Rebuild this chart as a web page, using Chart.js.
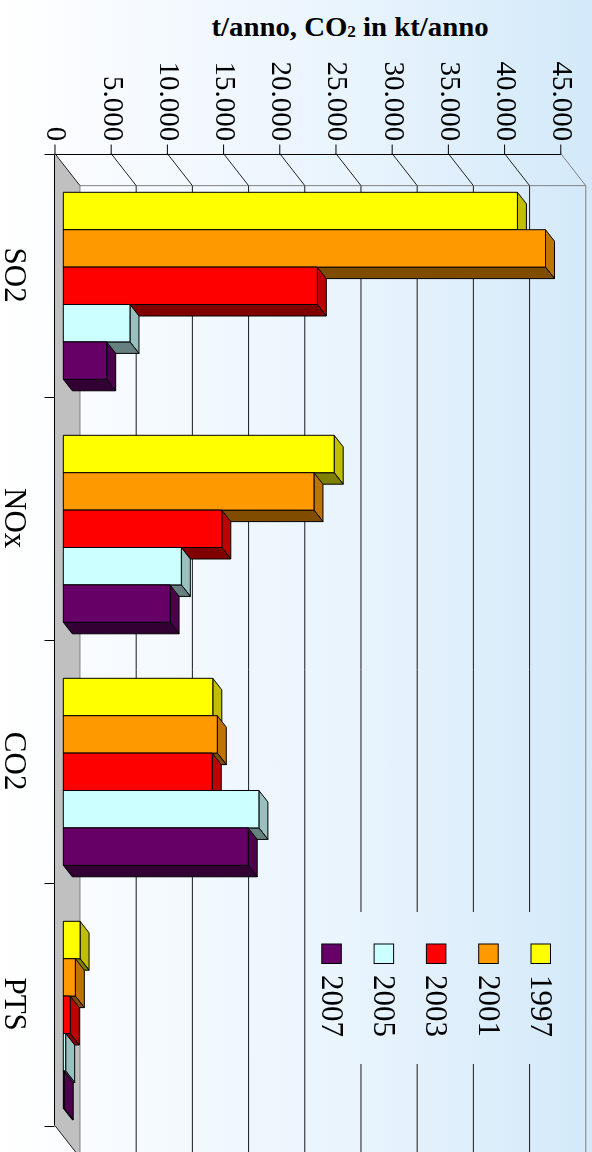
<!DOCTYPE html>
<html>
<head>
<meta charset="utf-8">
<script src="https://cdn.jsdelivr.net/npm/chart.js@4.4.1/dist/chart.umd.min.js"></script>
<style>
  html, body { margin: 0; padding: 0; }
  body {
    width: 592px; height: 1152px; overflow: hidden; position: relative;
    background: linear-gradient(to right, #ffffff 0%, #f5faff 25%, #e9f4fd 60%, #d3e9f9 100%);
  }
  #title {
    position: absolute; left: 350px; top: 14px; white-space: nowrap;
    font: bold 27px "Liberation Serif", serif; line-height: 27px; color: #000;
    transform: translateX(-50%) scaleX(1.065);
  }
  #title span { font-size: 0.6em; vertical-align: -1px; }
  #wrap {
    position: absolute; left: 0; top: 0; width: 1152px; height: 592px;
    transform-origin: 0 0; transform: translate(592px, 0) rotate(90deg);
  }
</style>
</head>
<body>
<div id="title">t/anno, CO<span>2</span> in kt/anno</div>
<div id="wrap"><canvas id="emis" width="1152" height="592"></canvas></div>
<script>
  // dati emissioni (t/anno, CO2 in kt/anno)
  const categories = ['SO2', 'NOx', 'CO2', 'PTS'];
  const years = ['1997', '2001', '2003', '2005', '2007'];
  const v1997 = [40400, 24100, 13300, 1490];
  const v2001 = [42900, 22300, 13700, 1070];
  const v2003 = [22600, 14100, 13250, 620];
  const v2005 = [5930, 10500, 17400, 210];
  const v2007 = [3860, 9500, 16450, 80];
  const yMax = 45000;
  const yStep = 5000;

  const series = [v1997, v2001, v2003, v2005, v2007];
  const front = ['#FFFF00', '#FF9900', '#FF0000', '#CCFFFF', '#660066'];
  const topFace = ['#BFBF00', '#BF7300', '#BF0000', '#99BFBF', '#4C004C'];
  const sideFace = ['#808000', '#804C00', '#800000', '#668080', '#330033'];

  const SERIF = '"Liberation Serif", "Times New Roman", serif';
  const fmt = v => String(v).replace(/\B(?=(\d{3})+(?!\d))/g, '.');

  // profondita' pareti e barre (pseudo 3D)
  const WU = 32, WV = 25;
  const BU = 11.5, BV = 9;

  function poly(ctx, pts, fill, stroke) {
    ctx.beginPath();
    ctx.moveTo(pts[0][0], pts[0][1]);
    for (let i = 1; i < pts.length; i++) ctx.lineTo(pts[i][0], pts[i][1]);
    ctx.closePath();
    if (fill) { ctx.fillStyle = fill; ctx.fill(); }
    if (stroke) { ctx.strokeStyle = stroke; ctx.lineWidth = 1; ctx.stroke(); }
  }
  function line(ctx, x1, y1, x2, y2, color) {
    ctx.beginPath();
    ctx.moveTo(x1, y1);
    ctx.lineTo(x2, y2);
    ctx.strokeStyle = color;
    ctx.lineWidth = 1;
    ctx.stroke();
  }

  const frame3d = {
    id: 'frame3d',
    beforeDatasetsDraw(chart) {
      const { ctx, chartArea: a, scales: { x, y } } = chart;
      const band = (a.right - a.left) / categories.length;
      const fv = val => y.getPixelForValue(val) + WV / 3;
      const bv = val => fv(val) - WV;
      const u0 = a.left - WU / 3;
      const u4 = u0 + band * categories.length;
      const v0 = Math.round(fv(0)) + 0.5;
      const ux0 = Math.round(u0) + 0.5;

      ctx.save();
      // pavimento
      poly(ctx, [[u0, fv(0)], [u0 + WU, bv(0)], [u4 + WU, bv(0)], [u4, fv(0)]], '#C0C0C0', null);
      // griglia parete di fondo
      for (let val = yStep; val < yMax; val += yStep) {
        line(ctx, u0 + WU, bv(val), u4 + WU, bv(val), '#1a1a1a');
      }
      line(ctx, u0 + WU, bv(yMax), u4 + WU, bv(yMax), '#808080');
      line(ctx, u0 + WU, bv(0), u4 + WU, bv(0), '#808080');
      line(ctx, u0 + WU, bv(0), u0 + WU, bv(yMax), '#808080');
      // parete laterale
      for (let val = 0; val <= yMax; val += yStep) {
        line(ctx, u0, fv(val), u0 + WU, bv(val), val === yMax ? '#808080' : '#202020');
      }
      line(ctx, u4, fv(0), u4 + WU, bv(0), '#202020');
      // assi frontali
      line(ctx, ux0, v0, u4, v0, '#000');
      line(ctx, ux0, v0, ux0, fv(yMax), '#000');
      for (let val = 0; val <= yMax; val += yStep) {
        line(ctx, ux0 - 10, fv(val), ux0, fv(val), '#000');
      }
      for (let k = 0; k <= categories.length; k++) {
        const uk = Math.round(u0 + k * band) + 0.5;
        line(ctx, uk, v0, uk, v0 + 10, '#000');
      }
      // barre
      chart.data.datasets.forEach((ds, i) => {
        chart.getDatasetMeta(i).data.forEach(el => {
          const l = el.x - el.width / 2, r = el.x + el.width / 2;
          const t = el.y, b = el.base;
          poly(ctx, [[l, t], [r, t], [r + BU, t - BV], [l + BU, t - BV]], topFace[i], '#000');
          poly(ctx, [[r, t], [r + BU, t - BV], [r + BU, b - BV], [r, b]], sideFace[i], '#000');
          poly(ctx, [[l, t], [r, t], [r, b], [l, b]], front[i], '#000');
        });
      });
      ctx.restore();
      return false;
    },
    afterDraw(chart) {
      const ctx = chart.ctx;
      ctx.save();
      ctx.clearRect(912, 12, 152, 270);
      ctx.font = '31px ' + SERIF;
      ctx.textBaseline = 'middle';
      ctx.textAlign = 'left';
      chart.data.datasets.forEach((ds, i) => {
        const vc = 51 + i * 52.3;
        ctx.fillStyle = ds.backgroundColor;
        ctx.fillRect(944, vc - 9.5, 19.5, 19.5);
        ctx.strokeStyle = '#000';
        ctx.lineWidth = 1;
        ctx.strokeRect(944, vc - 9.5, 19.5, 19.5);
        ctx.fillStyle = '#000';
        ctx.fillText(ds.label, 975, vc + 2);
      });
      ctx.restore();
    }
  };

  function noPad(s) {
    s.paddingTop = 0; s.paddingBottom = 0;
    s.paddingLeft = 0; s.paddingRight = 0;
  }

  const emis = new Chart(document.getElementById('emis').getContext('2d'), {
    type: 'bar',
    data: {
      labels: categories,
      datasets: years.map((yr, i) => ({
        label: yr,
        data: series[i],
        backgroundColor: front[i],
        categoryPercentage: 0.7695,
        barPercentage: 1.0
      }))
    },
    options: {
      responsive: false,
      animation: false,
      devicePixelRatio: 1,
      layout: { padding: { top: 22.9, right: 15.7, bottom: 0, left: 0 } },
      plugins: {
        legend: { display: false },
        tooltip: { enabled: false }
      },
      scales: {
        x: {
          grid: { display: false, drawTicks: false },
          border: { display: false },
          ticks: {
            color: '#000',
            font: { family: SERIF, size: 31 },
            padding: 32,
            labelOffset: -WU / 3,
            maxRotation: 0
          },
          afterFit: s => { s.height = 63.3; noPad(s); }
        },
        y: {
          min: 0,
          max: yMax,
          grid: { display: false, drawTicks: false },
          border: { display: false },
          ticks: {
            stepSize: yStep,
            color: '#000',
            font: { family: SERIF, size: 29 },
            padding: 23,
            labelOffset: WV / 3,
            callback: v => fmt(v)
          },
          afterFit: s => { s.width = 164.3; noPad(s); }
        }
      }
    },
    plugins: [frame3d]
  });
</script>
</body>
</html>
